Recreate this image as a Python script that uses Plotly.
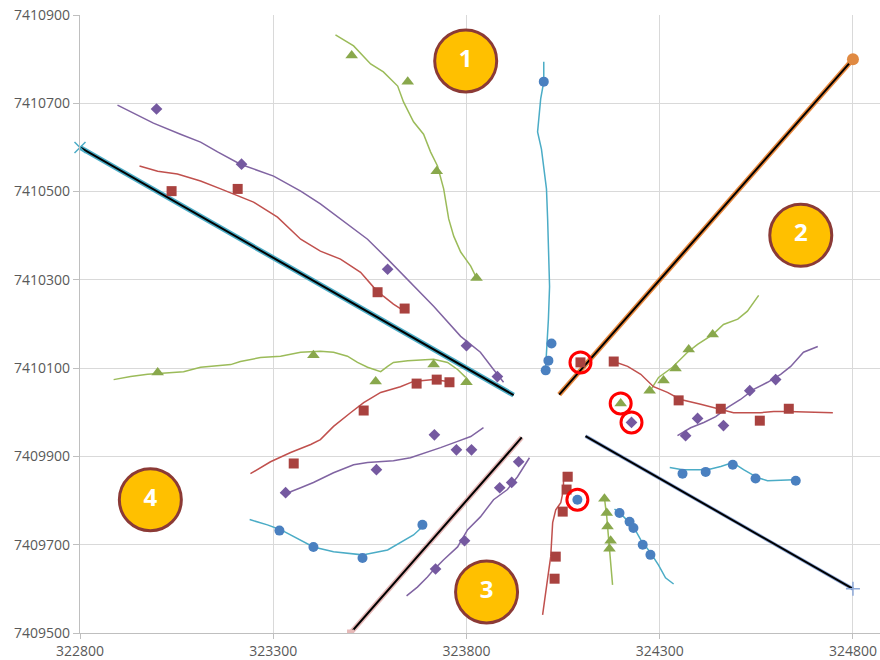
import plotly.graph_objects as go

# ---------------- axis ticks ----------------
x_ticks = [322800, 323300, 323800, 324300, 324800]
y_ticks = [7409500, 7409700, 7409900, 7410100, 7410300, 7410500, 7410700, 7410900]

# ---------------- diagonal boundary lines ----------------
nw_axis_x = [322800, 323922]
nw_axis_y = [7410600, 7410039]
ne_axis_x = [324040, 324800]
ne_axis_y = [7410040, 7410800]
se_axis_x = [324108, 324800]
se_axis_y = [7409946, 7409600]
sw_axis_x = [323500, 323943]
sw_axis_y = [7409500, 7409943]

# ---------------- traced lines (streams) ----------------
nw_purple_line_x = [322897, 322990, 323060, 323112, 323156, 323215, 323301, 323371, 323422, 323474,
                    323544, 323596, 323655, 323715, 323785, 323836, 323870, 323896]
nw_purple_line_y = [7410696, 7410655, 7410630, 7410612, 7410590, 7410562, 7410535, 7410501, 7410472, 7410438,
                    7410392, 7410347, 7410295, 7410240, 7410172, 7410136, 7410097, 7410068]
nw_red_line_x = [322954, 323001, 323052, 323112, 323164, 323197, 323249, 323311, 323371, 323422,
                 323474, 323526, 323560, 323585, 323611, 323629]
nw_red_line_y = [7410558, 7410546, 7410540, 7410524, 7410506, 7410494, 7410476, 7410442, 7410392, 7410365,
                 7410347, 7410317, 7410283, 7410263, 7410245, 7410235]
n_green_line_x = [323461, 323508, 323552, 323585, 323622, 323637, 323663, 323689, 323707, 323725,
                  323741, 323754, 323767, 323785, 323811, 323824]
n_green_line_y = [7410855, 7410830, 7410789, 7410771, 7410739, 7410703, 7410658, 7410630, 7410590, 7410558,
                  7410506, 7410438, 7410399, 7410363, 7410331, 7410308]
n_cyan_line_x = [324000, 324000, 323992, 323987, 323984, 323994, 324000, 324007, 324010, 324012,
                 324015, 324012, 324010, 324007, 324005]
n_cyan_line_y = [7410794, 7410749, 7410710, 7410671, 7410635, 7410596, 7410558, 7410506, 7410438, 7410363,
                 7410285, 7410211, 7410172, 7410149, 7410104]
w_green_line_x = [322887, 322931, 322975, 323068, 323112, 323190, 323215, 323267, 323319, 323371,
                  323422, 323456, 323492, 323518, 323544, 323578, 323596, 323611, 323648, 323715,
                  323751, 323777, 323798]
w_green_line_y = [7410074, 7410081, 7410086, 7410092, 7410102, 7410108, 7410115, 7410124, 7410127, 7410136,
                  7410138, 7410136, 7410127, 7410113, 7410102, 7410092, 7410104, 7410113, 7410117, 7410120,
                  7410113, 7410097, 7410079]
w_red_line_x = [323241, 323293, 323345, 323397, 323422, 323456, 323500, 323534, 323578, 323629,
                323663, 323715, 323751]
w_red_line_y = [7409861, 7409888, 7409909, 7409927, 7409938, 7409968, 7409999, 7410022, 7410045, 7410058,
                7410070, 7410074, 7410070]
w_purple_line_x = [323319, 323345, 323371, 323404, 323456, 323508, 323544, 323611, 323655, 323699,
                   323733, 323777, 323811, 323844]
w_purple_line_y = [7409818, 7409820, 7409829, 7409841, 7409863, 7409881, 7409886, 7409890, 7409897, 7409909,
                   7409920, 7409934, 7409945, 7409965]
sw_cyan_line_x = [323239, 323285, 323319, 323353, 323371, 323404, 323456, 323531, 323596, 323629,
                  323663, 323689]
sw_cyan_line_y = [7409757, 7409745, 7409734, 7409718, 7409711, 7409695, 7409684, 7409677, 7409688, 7409704,
                  7409722, 7409743]
s_purple_line_x = [323645, 323673, 323699, 323715, 323741, 323777, 323803, 323836, 323870, 323906,
                   323932, 323963]
s_purple_line_y = [7409584, 7409604, 7409627, 7409643, 7409666, 7409695, 7409734, 7409763, 7409802, 7409825,
                   7409854, 7409897]
s_red_line_x = [324051, 324051, 324044, 324031, 324023, 324020, 324018, 324012, 324005, 323997]
s_red_line_y = [7409865, 7409825, 7409795, 7409779, 7409750, 7409711, 7409673, 7409636, 7409591, 7409541]
s_green_line_x = [324157, 324163, 324168, 324173, 324178]
s_green_line_y = [7409806, 7409763, 7409711, 7409666, 7409609]
se_cyan_line_x = [324183, 324207, 324232, 324251, 324276, 324297, 324315, 324336]
se_cyan_line_y = [7409781, 7409763, 7409741, 7409711, 7409682, 7409654, 7409625, 7409611]
e_cyan_line_x = [324326, 324359, 324424, 324458, 324489, 324517, 324553, 324579, 324647]
e_cyan_line_y = [7409875, 7409870, 7409870, 7409877, 7409886, 7409870, 7409852, 7409845, 7409847]
e_green_line_x = [324274, 324297, 324333, 324372, 324398, 324437, 324465, 324502, 324527, 324556]
e_green_line_y = [7410047, 7410079, 7410102, 7410136, 7410154, 7410176, 7410199, 7410211, 7410229, 7410265]
e_red_line_x = [324181, 324217, 324251, 324284, 324320, 324354, 324406, 324458, 324491, 324561,
                324595, 324631, 324748]
e_red_line_y = [7410115, 7410104, 7410086, 7410058, 7410045, 7410029, 7410018, 7410006, 7409999, 7409999,
                7410002, 7410002, 7409999]
e_purple_line_x = [324346, 324380, 324414, 324445, 324476, 324509, 324543, 324579, 324613, 324639,
                   324672, 324709]
e_purple_line_y = [7409947, 7409965, 7409977, 7409990, 7410011, 7410029, 7410052, 7410068, 7410086, 7410104,
                   7410136, 7410149]

# ---------------- sample points ----------------
diamond_x = [322998, 323218, 323596, 323800, 323880,
             323332, 323567, 323717, 323774, 323813,
             323720, 323795, 323886, 323917, 323935,
             324367, 324398, 324465, 324533, 324600, 324227]
diamond_y = [7410687, 7410562, 7410324, 7410151, 7410081,
             7409818, 7409870, 7409949, 7409915, 7409915,
             7409645, 7409709, 7409829, 7409841, 7409888,
             7409947, 7409986, 7409970, 7410049, 7410074, 7409977]
square_x = [323037, 323208, 323570, 323640,
            323353, 323534, 323671, 323723, 323756,
            324062, 324059, 324049, 324031, 324028,
            324181, 324349, 324458, 324559, 324634, 324095]
square_y = [7410501, 7410506, 7410272, 7410235,
            7409884, 7410004, 7410065, 7410074, 7410068,
            7409854, 7409825, 7409775, 7409673, 7409623,
            7410115, 7410027, 7410008, 7409981, 7410008, 7410113]
triangle_x = [323503, 323648, 323723, 323826,
              323001, 323404, 323565, 323715, 323800,
              324157, 324163, 324165, 324173, 324170,
              324274, 324310, 324341, 324375, 324437, 324199]
triangle_y = [7410808, 7410749, 7410546, 7410304,
              7410090, 7410129, 7410070, 7410108, 7410068,
              7409804, 7409772, 7409741, 7409709, 7409691,
              7410049, 7410072, 7410099, 7410142, 7410176, 7410020]
circle_x = [324000, 324020, 324012, 324005,
            323316, 323404, 323531, 323686,
            324196, 324222, 324232, 324256, 324276,
            324359, 324419, 324489, 324548, 324652, 324087]
circle_y = [7410749, 7410156, 7410117, 7410095,
            7409732, 7409695, 7409670, 7409745,
            7409772, 7409752, 7409738, 7409700, 7409677,
            7409861, 7409865, 7409881, 7409850, 7409845, 7409802]

# highlighted points (red rings)
ring_x = [324095, 324199, 324227, 324087]
ring_y = [7410113, 7410020, 7409977, 7409802]

# numbered zone labels
zone_labels = ["1", "2", "3", "4"]
zone_x = [323798, 324665, 323852, 322982]
zone_y = [7410796, 7410401, 7409593, 7409802]

RED_L, RED_M = "#C0504D", "#A9423F"
GREEN_L, GREEN_M = "#9BBB59", "#89A84C"
PURPLE_L, PURPLE_M = "#8064A2", "#7559A0"
CYAN_L, BLUE_M = "#4BACC6", "#4A80C0"

fig = go.Figure()


def add_axis_line(xs, ys, halo, halo_w=5.0):
    fig.add_trace(go.Scatter(x=xs, y=ys, mode="lines", line=dict(color=halo, width=halo_w),
                             hoverinfo="skip"))
    fig.add_trace(go.Scatter(x=xs, y=ys, mode="lines", line=dict(color="#000000", width=2),
                             hoverinfo="skip"))


add_axis_line(nw_axis_x, nw_axis_y, "#4BACC6")
add_axis_line(ne_axis_x, ne_axis_y, "#E8893F")
add_axis_line(se_axis_x, se_axis_y, "#8EA9D8", 3.5)
add_axis_line(sw_axis_x, sw_axis_y, "#E6B9B8")

# end markers of boundary lines
fig.add_trace(go.Scatter(x=[nw_axis_x[0]], y=[nw_axis_y[0]], mode="markers", cliponaxis=False,
                         marker=dict(symbol="x-thin", size=11, color="#4BACC6",
                                     line=dict(color="#4BACC6", width=1.5))))
fig.add_trace(go.Scatter(x=[ne_axis_x[-1]], y=[ne_axis_y[-1]], mode="markers",
                         marker=dict(symbol="circle", size=12, color="#E08A42")))
fig.add_trace(go.Scatter(x=[se_axis_x[-1]], y=[se_axis_y[-1]], mode="markers",
                         marker=dict(symbol="cross-thin", size=10, color="#8EA9D8",
                                     line=dict(color="#8EA9D8", width=1.5))))
fig.add_trace(go.Scatter(x=[sw_axis_x[0]], y=[sw_axis_y[0]], mode="markers",
                         marker=dict(symbol="square", size=7, color="#E6B9B8")))

lines = [
    (nw_purple_line_x, nw_purple_line_y, PURPLE_L),
    (nw_red_line_x, nw_red_line_y, RED_L),
    (n_green_line_x, n_green_line_y, GREEN_L),
    (n_cyan_line_x, n_cyan_line_y, CYAN_L),
    (w_green_line_x, w_green_line_y, GREEN_L),
    (w_red_line_x, w_red_line_y, RED_L),
    (w_purple_line_x, w_purple_line_y, PURPLE_L),
    (sw_cyan_line_x, sw_cyan_line_y, CYAN_L),
    (s_purple_line_x, s_purple_line_y, PURPLE_L),
    (s_red_line_x, s_red_line_y, RED_L),
    (s_green_line_x, s_green_line_y, GREEN_L),
    (se_cyan_line_x, se_cyan_line_y, CYAN_L),
    (e_cyan_line_x, e_cyan_line_y, CYAN_L),
    (e_green_line_x, e_green_line_y, GREEN_L),
    (e_red_line_x, e_red_line_y, RED_L),
    (e_purple_line_x, e_purple_line_y, PURPLE_L),
]
for xs, ys, c in lines:
    fig.add_trace(go.Scatter(x=xs, y=ys, mode="lines", line=dict(color=c, width=1.5)))

fig.add_trace(go.Scatter(x=diamond_x, y=diamond_y, mode="markers",
                         marker=dict(symbol="diamond", size=9, color=PURPLE_M)))
fig.add_trace(go.Scatter(x=square_x, y=square_y, mode="markers",
                         marker=dict(symbol="square", size=10, color=RED_M)))
fig.add_trace(go.Scatter(x=triangle_x, y=triangle_y, mode="markers",
                         marker=dict(symbol="triangle-up", size=11, color=GREEN_M)))
fig.add_trace(go.Scatter(x=circle_x, y=circle_y, mode="markers",
                         marker=dict(symbol="circle", size=10, color=BLUE_M)))

fig.add_trace(go.Scatter(x=ring_x, y=ring_y, mode="markers",
                         marker=dict(symbol="circle-open", size=21, color="#FF0000",
                                     line=dict(color="#FF0000", width=3))))

fig.add_trace(go.Scatter(
    x=zone_x, y=zone_y, mode="markers+text",
    text=["<b>%s</b>" % t for t in zone_labels],
    textposition="middle center",
    textfont=dict(color="#FFFFFF", size=24, family="Open Sans"),
    marker=dict(symbol="circle", size=62, color="#FFC000", line=dict(color="#8B3A36", width=3)),
))

axis_font = dict(family="Open Sans", size=14, color="#595959")
fig.update_layout(
    width=880, height=660,
    margin=dict(l=80, r=0, t=15, b=27),
    paper_bgcolor="#FFFFFF", plot_bgcolor="#FFFFFF",
    showlegend=False,
    xaxis=dict(range=[322800, 324870], tickvals=x_ticks, ticktext=[str(v) for v in x_ticks],
               showgrid=True, gridcolor="#D9D9D9", gridwidth=1.2, zeroline=False,
               showline=True, linecolor="#BFBFBF", linewidth=1.2,
               ticks="outside", ticklen=5, tickcolor="#BFBFBF", tickfont=axis_font,
               automargin=False),
    yaxis=dict(range=[7409500, 7410900], tickvals=y_ticks, ticktext=[str(v) for v in y_ticks],
               showgrid=True, gridcolor="#D9D9D9", gridwidth=1.2, zeroline=False,
               showline=True, linecolor="#BFBFBF", linewidth=1.2,
               ticks="outside", ticklen=6, tickcolor="#BFBFBF", tickfont=axis_font,
               automargin=False),
)

fig.write_html("out.html", config={"displayModeBar": False},
               post_script="document.body.style.margin='0';document.body.style.overflow='hidden';")
